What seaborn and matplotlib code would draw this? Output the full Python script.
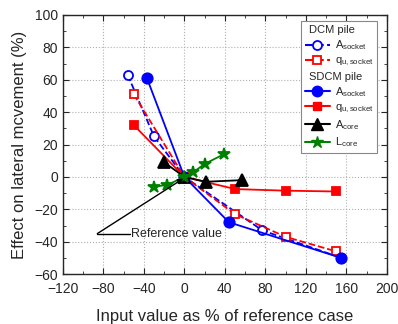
import numpy as np
import pandas as pd
import matplotlib
matplotlib.use('Agg')
import matplotlib.pyplot as plt
from matplotlib.lines import Line2D
import seaborn as sns

# DCM pile (open markers, dashed)
dcm_a_x = [-56, -30, 0, 77, 155]
dcm_a_y = [63, 25, 0, -33, -50]
dcm_q_x = [-50, 0, 50, 100, 150]
dcm_q_y = [51, 0, -23, -37, -46]

# SDCM pile (filled markers, solid)
sdcm_a_x = [-37, 0, 44, 155]
sdcm_a_y = [61, 0, -28, -50]
sdcm_q_x = [-50, 0, 50, 100, 150]
sdcm_q_y = [32, 0, -7.5, -8.5, -9]
acore_x = [-20, 0, 21, 57]
acore_y = [9, 0, -3, -2]
lcore_x = [-30, -17, 0, 9, 20, 39]
lcore_y = [-6, -5, 0, 3, 8, 14]

sns.set_style('ticks')
plt.rcParams['font.family'] = ['Liberation Sans', 'DejaVu Sans']
plt.rcParams['mathtext.fontset'] = 'custom'
plt.rcParams['mathtext.rm'] = 'Liberation Sans'
plt.rcParams['mathtext.it'] = 'Liberation Sans:italic'
plt.rcParams['xtick.direction'] = 'in'
plt.rcParams['ytick.direction'] = 'in'

fig = plt.figure(figsize=(3.98, 3.24), dpi=100)
ax = fig.add_axes([0.158, 0.154, 0.814, 0.8])

def draw(x, y, color, marker, ms, ls, open_marker=False):
    sns.lineplot(x=x, y=y, ax=ax, sort=False, color=color, marker=marker,
                 markersize=ms, linestyle=ls, linewidth=1.3,
                 markeredgecolor=color, markeredgewidth=1.3,
                 markerfacecolor='white' if open_marker else color)

draw(dcm_a_x, dcm_a_y, '#0000ff', 'o', 6.5, '--', True)
draw(dcm_q_x, dcm_q_y, '#ff0000', 's', 5.5, '--', True)
draw(sdcm_q_x, sdcm_q_y, '#ff0000', 's', 6, '-')
draw(sdcm_a_x, sdcm_a_y, '#0000ff', 'o', 7.5, '-')
draw(acore_x, acore_y, 'black', '^', 8, '-')
draw(lcore_x, lcore_y, '#008000', '*', 9, '-')

# reference value annotation
ax.plot([-54, -86], [-35, -35], color='black', lw=1)
ax.annotate('', xy=(-1, -1), xytext=(-86, -35),
            arrowprops=dict(arrowstyle='-|>', color='black', lw=1, mutation_scale=8,
                            shrinkA=0, shrinkB=0))
ax.text(-53, -35, 'Reference value', fontsize=9, va='center', ha='left')

ax.set_xlim(-120, 200)
ax.set_ylim(-60, 100)
ax.set_xticks(np.arange(-120, 201, 40))
ax.set_yticks(np.arange(-60, 101, 20))
ax.set_xticks(np.arange(-120, 201, 20), minor=True)
ax.set_yticks(np.arange(-60, 101, 10), minor=True)
ax.tick_params(which='both', top=True, right=True, labelsize=10)
ax.tick_params(which='major', length=4)
ax.tick_params(which='minor', length=2.5)
ax.tick_params(axis='x', which='major', pad=6)
ax.grid(True, which='major', linestyle=':', color='#b0b0b0', linewidth=0.8)
for sp in ax.spines.values():
    sp.set_linewidth(1)
ax.set_xlabel('Input value as % of reference case', fontsize=12, labelpad=9)
ax.set_ylabel('Effect on lateral mcvement (%)', fontsize=12, labelpad=5)

blank = Line2D([], [], linestyle='none')
handles = [
    blank,
    Line2D([], [], color='#0000ff', ls='--', marker='o', mfc='white', mec='#0000ff', ms=6.5, mew=1.3),
    Line2D([], [], color='#ff0000', ls='--', marker='s', mfc='white', mec='#ff0000', ms=5.5, mew=1.3),
    blank,
    Line2D([], [], color='#0000ff', ls='-', marker='o', ms=7.5),
    Line2D([], [], color='#ff0000', ls='-', marker='s', ms=6),
    Line2D([], [], color='black', ls='-', marker='^', ms=8),
    Line2D([], [], color='#008000', ls='-', marker='*', ms=9),
]
labels = ['DCM pile', r'A$_{\rm socket}$', r'q$_{\rm u,socket}$', 'SDCM pile',
          r'A$_{\rm socket}$', r'q$_{\rm u,socket}$', r'A$_{\rm core}$', r'L$_{\rm core}$']
leg = ax.legend(handles, labels, loc='upper right', bbox_to_anchor=(0.97, 0.975),
                borderaxespad=0, fontsize=8, frameon=True, fancybox=False,
                edgecolor='#888888', framealpha=1, handlelength=2.3,
                handletextpad=0.4, labelspacing=0.3, borderpad=0.35)
leg.get_frame().set_linewidth(0.8)
rows = leg._legend_handle_box.get_children()[0].get_children()
for i in (0, 3):
    rows[i].get_children()[0].set_width(0)

fig.savefig('out.png', dpi=100)
